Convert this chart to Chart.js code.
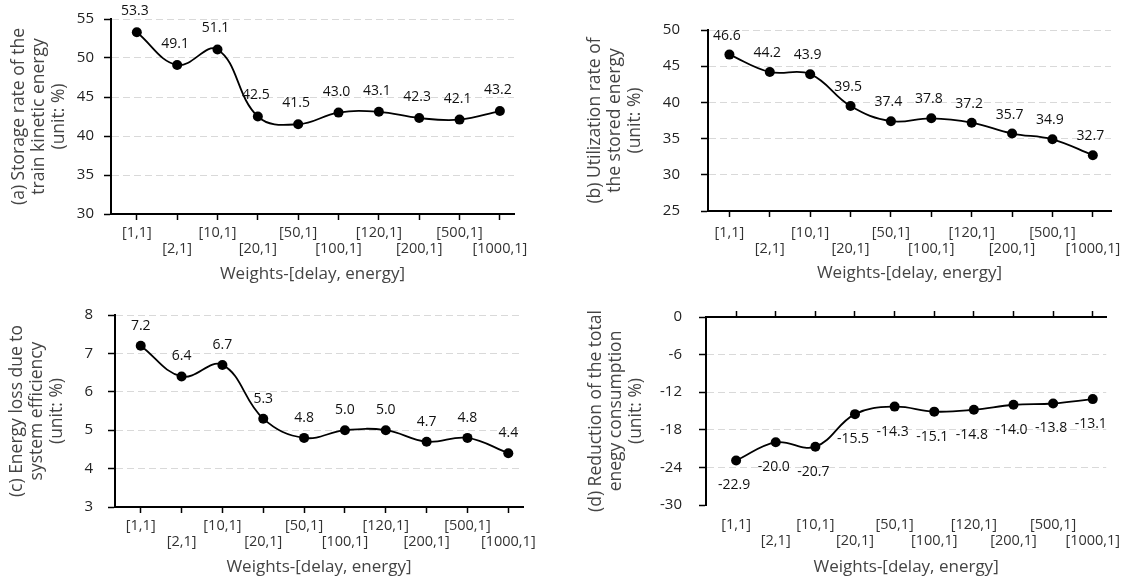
<!DOCTYPE html>
<html>
<head>
<meta charset="utf-8">
<script src="https://cdn.jsdelivr.net/npm/chart.js@4.4.0/dist/chart.umd.min.js"></script>
<style>
  body { margin: 0; background: #fff; }
  #wrap { position: relative; width: 1133px; height: 583px; }
  canvas { position: absolute; }
</style>
</head>
<body>
<div id="wrap">
  <canvas id="chartA" width="566" height="291" style="left:0;top:0"></canvas>
  <canvas id="chartB" width="567" height="291" style="left:566px;top:0"></canvas>
  <canvas id="chartC" width="566" height="292" style="left:0;top:291px"></canvas>
  <canvas id="chartD" width="567" height="292" style="left:566px;top:291px"></canvas>
</div>
<script>
const weights = ['[1,1]', '[2,1]', '[10,1]', '[20,1]', '[50,1]', '[100,1]', '[120,1]', '[200,1]', '[500,1]', '[1000,1]'];

const storageRate = [53.3, 49.1, 51.1, 42.5, 41.5, 43.0, 43.1, 42.3, 42.1, 43.2];
const utilizationRate = [46.6, 44.2, 43.9, 39.5, 37.4, 37.8, 37.2, 35.7, 34.9, 32.7];
const energyLoss = [7.2, 6.4, 6.7, 5.3, 4.8, 5.0, 5.0, 4.7, 4.8, 4.4];
const energyReduction = [-22.9, -20.0, -20.7, -15.5, -14.3, -15.1, -14.8, -14.0, -13.8, -13.1];

const yTicksA = [30, 35, 40, 45, 50, 55];
const yTicksB = [25, 30, 35, 40, 45, 50];
const yTicksC = [3, 4, 5, 6, 7, 8];
const yTicksD = [-30, -24, -18, -12, -6, 0];

const titleA = ['(a) Storage rate of the', 'train kinetic energy', '(unit: %)'];
const titleB = ['(b) Utilization rate of', 'the stored energy', '(unit: %)'];
const titleC = ['(c) Energy loss due to', 'system efficiency', '(unit: %)'];
const titleD = ['(d) Reduction of the total', 'enegy consumption', '(unit: %)'];
const xTitle = 'Weights-[delay, energy]';

const FONT = '"Open Sans", sans-serif';
Chart.defaults.font.family = FONT;

// draws the value above/below each point
const valueLabels = {
  id: 'valueLabels',
  afterDatasetsDraw(chart, args, opts) {
    const ctx = chart.ctx;
    const meta = chart.getDatasetMeta(0);
    const data = chart.data.datasets[0].data;
    ctx.save();
    ctx.font = '14px ' + FONT;
    ctx.fillStyle = '#111';
    ctx.textAlign = 'center';
    ctx.textBaseline = 'middle';
    meta.data.forEach((pt, i) => {
      ctx.fillText(data[i].y.toFixed(1), pt.x + opts.dx, pt.y + opts.dy);
    });
    ctx.restore();
  }
};

function makeChart(id, values, yTicks, yTitle, p) {
  const canvas = document.getElementById(id);
  const W = canvas.width, H = canvas.height;

  const labelAxis = {
    type: 'linear',
    position: 'bottom',
    min: p.xmin,
    max: p.xmax,
    afterBuildTicks: s => { s.ticks = weights.map((w, i) => ({ value: i })); },
    afterFit: s => { s.height = H - p.bottom; },
    border: { display: !p.topAxis, color: '#000', width: 2 },
    grid: { display: !p.topAxis, drawOnChartArea: false, drawTicks: !p.topAxis, tickLength: 6, tickColor: '#000', tickWidth: 1.5 },
    ticks: {
      autoSkip: false, maxRotation: 0, minRotation: 0,
      padding: p.xtPad,
      color: '#333',
      font: { size: 14.5, lineHeight: '16px' },
      callback: v => (v % 2 === 0 ? [weights[v], ''] : ['', weights[v]])
    },
    title: {
      display: true, text: xTitle, color: '#444',
      font: { size: 17, lineHeight: '20px' },
      padding: { top: 0, bottom: H - p.titleY - 10 }
    }
  };

  const scales = {};
  if (p.topAxis) {
    scales.x = {
      type: 'linear',
      position: 'top',
      min: p.xmin,
      max: p.xmax,
      afterBuildTicks: s => { s.ticks = weights.map((w, i) => ({ value: i })); },
      afterFit: s => { s.height = p.top; },
      border: { color: '#000', width: 2 },
      grid: { drawOnChartArea: false, tickLength: 6, tickColor: '#000', tickWidth: 1.5 },
      ticks: { display: false }
    };
    scales.x2 = labelAxis;
  } else {
    scales.x = labelAxis;
  }

  scales.y = {
    min: yTicks[0],
    max: yTicks[yTicks.length - 1],
    afterBuildTicks: s => { s.ticks = yTicks.map(v => ({ value: v })); },
    afterFit: s => { s.width = p.left; },
    border: { color: '#000', width: 2, dash: [7, 4] },
    grid: {
      color: c => (p.topAxis && c.tick && c.tick.value === yTicks[0]) ? 'rgba(0,0,0,0)' : '#d9d9d9',
      lineWidth: 1, tickLength: 7, tickColor: '#000', tickWidth: 1.5
    },
    ticks: { padding: p.ytPad, color: '#222', font: { size: 15 } },
    title: {
      display: true, text: yTitle, color: '#444',
      font: { size: 17.5, lineHeight: '20px' },
      padding: { top: p.titlePad, bottom: 0 }
    }
  };

  return new Chart(canvas, {
    type: 'line',
    data: {
      datasets: [{
        data: values.map((v, i) => ({ x: i, y: v })),
        xAxisID: 'x',
        borderColor: '#000',
        borderWidth: 1.8,
        pointRadius: 5,
        pointBackgroundColor: '#000',
        pointBorderWidth: 0,
        tension: 0.4,
        clip: false
      }]
    },
    options: {
      responsive: false,
      animation: false,
      layout: { padding: { left: 0, top: p.topAxis ? 0 : p.top, right: W - p.right, bottom: 0 } },
      scales: scales,
      plugins: {
        legend: { display: false },
        tooltip: { enabled: false },
        valueLabels: { dx: p.dx, dy: p.dy }
      }
    },
    plugins: [valueLabels]
  });
}

makeChart('chartA', storageRate, yTicksA, titleA,
  { left: 111, right: 514, top: 16, bottom: 214, xmin: -0.64, xmax: 9.35, ytPad: 10, titlePad: 9, xtPad: 4.5, titleY: 274.5, dx: -2, dy: -21 });
makeChart('chartB', utilizationRate, yTicksB, titleB,
  { left: 142, right: 545, top: 14, bottom: 211, xmin: -0.53, xmax: 9.45, ytPad: 21, titlePad: 19.5, xtPad: 8, titleY: 273, dx: -2.5, dy: -19 });
makeChart('chartC', energyLoss, yTicksC, titleC,
  { left: 115, right: 523, top: 18, bottom: 216, xmin: -0.63, xmax: 9.36, ytPad: 15, titlePad: 7, xtPad: 5, titleY: 276, dx: 0, dy: -20 });
makeChart('chartD', energyReduction, yTicksD, titleD,
  { left: 140, right: 546, top: 19, bottom: 214, xmin: -0.76, xmax: 9.34, ytPad: 17, titlePad: 20.5, xtPad: 12, titleY: 276, dx: -2, dy: 25, topAxis: true });
</script>
</body>
</html>
